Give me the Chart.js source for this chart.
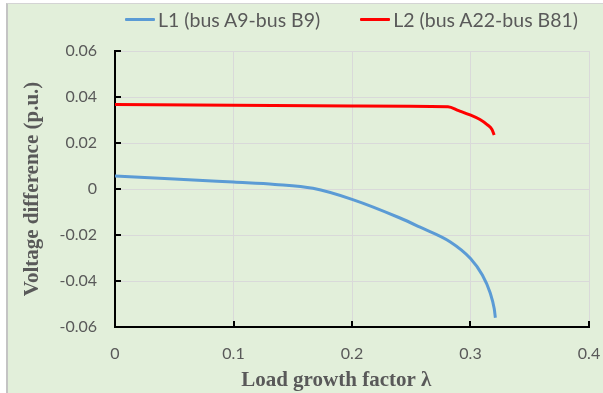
<!DOCTYPE html>
<html>
<head>
<meta charset="utf-8">
<script src="https://cdn.jsdelivr.net/npm/chart.js@4.4.1/dist/chart.umd.min.js"></script>
<style>
    body { margin: 0; background: #ffffff; }
    #wrap { position: relative; width: 603px; height: 393px; overflow: hidden; }
    #panel {
        position: absolute; left: 6px; top: 3px; right: 0; bottom: 0;
        background: #e2efda;
        border-left: 2px solid #c4c4c4;
        border-top: 1px solid #d4d4d4;
    }
    #chart { position: absolute; left: 0; top: 0; }
    #legend {
        position: absolute; left: 125px; top: 8px;
        display: flex; gap: 40px;
        font-family: Lato, "Noto Sans", sans-serif; font-size: 19.5px; color: #595959;
    }
    .item { display: flex; align-items: center; white-space: nowrap; }
    .swatch { display: inline-block; width: 30px; height: 3px; margin-right: 3px; border-radius: 1px; }
</style>
</head>
<body>
<div id="wrap">
    <div id="panel"></div>
    <canvas id="chart" width="603" height="393"></canvas>
    <div id="legend"></div>
</div>
<script>
// Series values
const seriesNames = ['L1 (bus A9-bus B9)', 'L2 (bus A22-bus B81)'];
const seriesColors = ['#5b9bd5', '#ff0000'];

const l1X = [0, 0.05, 0.1, 0.135, 0.167, 0.2, 0.24, 0.257, 0.283, 0.3, 0.31, 0.3165, 0.32, 0.321];
const l1Y = [0.0056, 0.0044, 0.003, 0.002, 0.0003, -0.0045, -0.0125, -0.0165, -0.023, -0.0302, -0.0374, -0.045, -0.052, -0.056];

const l2X = [0, 0.1, 0.2, 0.281, 0.29, 0.2996, 0.308, 0.314, 0.318, 0.32];
const l2Y = [0.0367, 0.0364, 0.0361, 0.0358, 0.0341, 0.0322, 0.0302, 0.028, 0.026, 0.0235];

const xTicks = [0, 0.1, 0.2, 0.3, 0.4];
const yTicks = [-0.06, -0.04, -0.02, 0, 0.02, 0.04, 0.06];

function toPoints(xs, ys) {
    return xs.map((x, i) => ({ x: x, y: ys[i] }));
}

// Short tick marks drawn inside the plot, like the original
const innerTicks = {
    id: 'innerTicks',
    afterDatasetsDraw(chart) {
        const ctx = chart.ctx;
        const xs = chart.scales.x;
        const ys = chart.scales.y;
        const area = chart.chartArea;
        ctx.save();
        ctx.strokeStyle = '#000000';
        ctx.lineWidth = 2;
        ctx.beginPath();
        xTicks.forEach(v => {
            const px = Math.round(xs.getPixelForValue(v));
            ctx.moveTo(px, area.bottom);
            ctx.lineTo(px, area.bottom - 6);
        });
        yTicks.forEach(v => {
            const py = Math.round(ys.getPixelForValue(v));
            ctx.moveTo(area.left, py);
            ctx.lineTo(area.left + 6, py);
        });
        ctx.stroke();
        ctx.restore();
    }
};

const ctx = document.getElementById('chart').getContext('2d');
const chart = new Chart(ctx, {
    type: 'line',
    data: {
        datasets: [
            {
                label: seriesNames[0],
                data: toPoints(l1X, l1Y),
                borderColor: seriesColors[0],
                backgroundColor: seriesColors[0],
                borderWidth: 3,
                pointRadius: 0,
                tension: 0.3,
                cubicInterpolationMode: 'monotone'
            },
            {
                label: seriesNames[1],
                data: toPoints(l2X, l2Y),
                borderColor: seriesColors[1],
                backgroundColor: seriesColors[1],
                borderWidth: 3,
                pointRadius: 0,
                tension: 0.3,
                cubicInterpolationMode: 'monotone'
            }
        ]
    },
    options: {
        responsive: false,
        devicePixelRatio: 1,
        animation: false,
        layout: { padding: { top: 51, right: 14, bottom: 0, left: 0 } },
        plugins: {
            legend: { display: false },
            tooltip: { enabled: false }
        },
        scales: {
            x: {
                type: 'linear',
                min: 0,
                max: 0.4,
                afterBuildTicks: scale => { scale.ticks = xTicks.map(v => ({ value: v })); },
                afterFit: scale => {
                    scale.height = 66;
                    scale.paddingLeft = 0;
                    scale.paddingRight = 0;
                },
                grid: { color: '#d9d9d9', lineWidth: 1, drawTicks: false },
                border: { color: '#000000', width: 2 },
                ticks: {
                    padding: 17,
                    color: '#595959',
                    font: { family: 'Lato', size: 16 },
                    callback: v => v === 0 ? '0' : v.toFixed(1)
                },
                title: {
                    display: true,
                    text: 'Load growth factor λ\u00a0\u00a0\u00a0\u00a0\u00a0\u00a0',
                    color: '#595959',
                    font: { family: '"Liberation Serif"', size: 21, weight: 'bold' },
                    padding: { top: 0, bottom: 0 }
                }
            },
            y: {
                min: -0.06,
                max: 0.06,
                afterBuildTicks: scale => { scale.ticks = yTicks.map(v => ({ value: v })); },
                afterFit: scale => { scale.width = 115; },
                grid: { color: '#d9d9d9', lineWidth: 1, drawTicks: false },
                border: { color: '#000000', width: 2 },
                ticks: {
                    padding: 18,
                    color: '#595959',
                    font: { family: 'Lato', size: 16 },
                    callback: v => Math.abs(v) < 1e-9 ? '0' : v.toFixed(2)
                },
                title: {
                    display: true,
                    text: 'Voltage difference (p.u.)',
                    color: '#595959',
                    font: { family: '"Liberation Serif"', size: 21, weight: 'bold' },
                    padding: { top: 20, bottom: 0 }
                }
            }
        }
    },
    plugins: [innerTicks]
});

// HTML legend built from the datasets
const legendEl = document.getElementById('legend');
chart.data.datasets.forEach(ds => {
    const item = document.createElement('div');
    item.className = 'item';
    const sw = document.createElement('span');
    sw.className = 'swatch';
    sw.style.background = ds.borderColor;
    item.appendChild(sw);
    item.appendChild(document.createTextNode(ds.label));
    legendEl.appendChild(item);
});
</script>
</body>
</html>
